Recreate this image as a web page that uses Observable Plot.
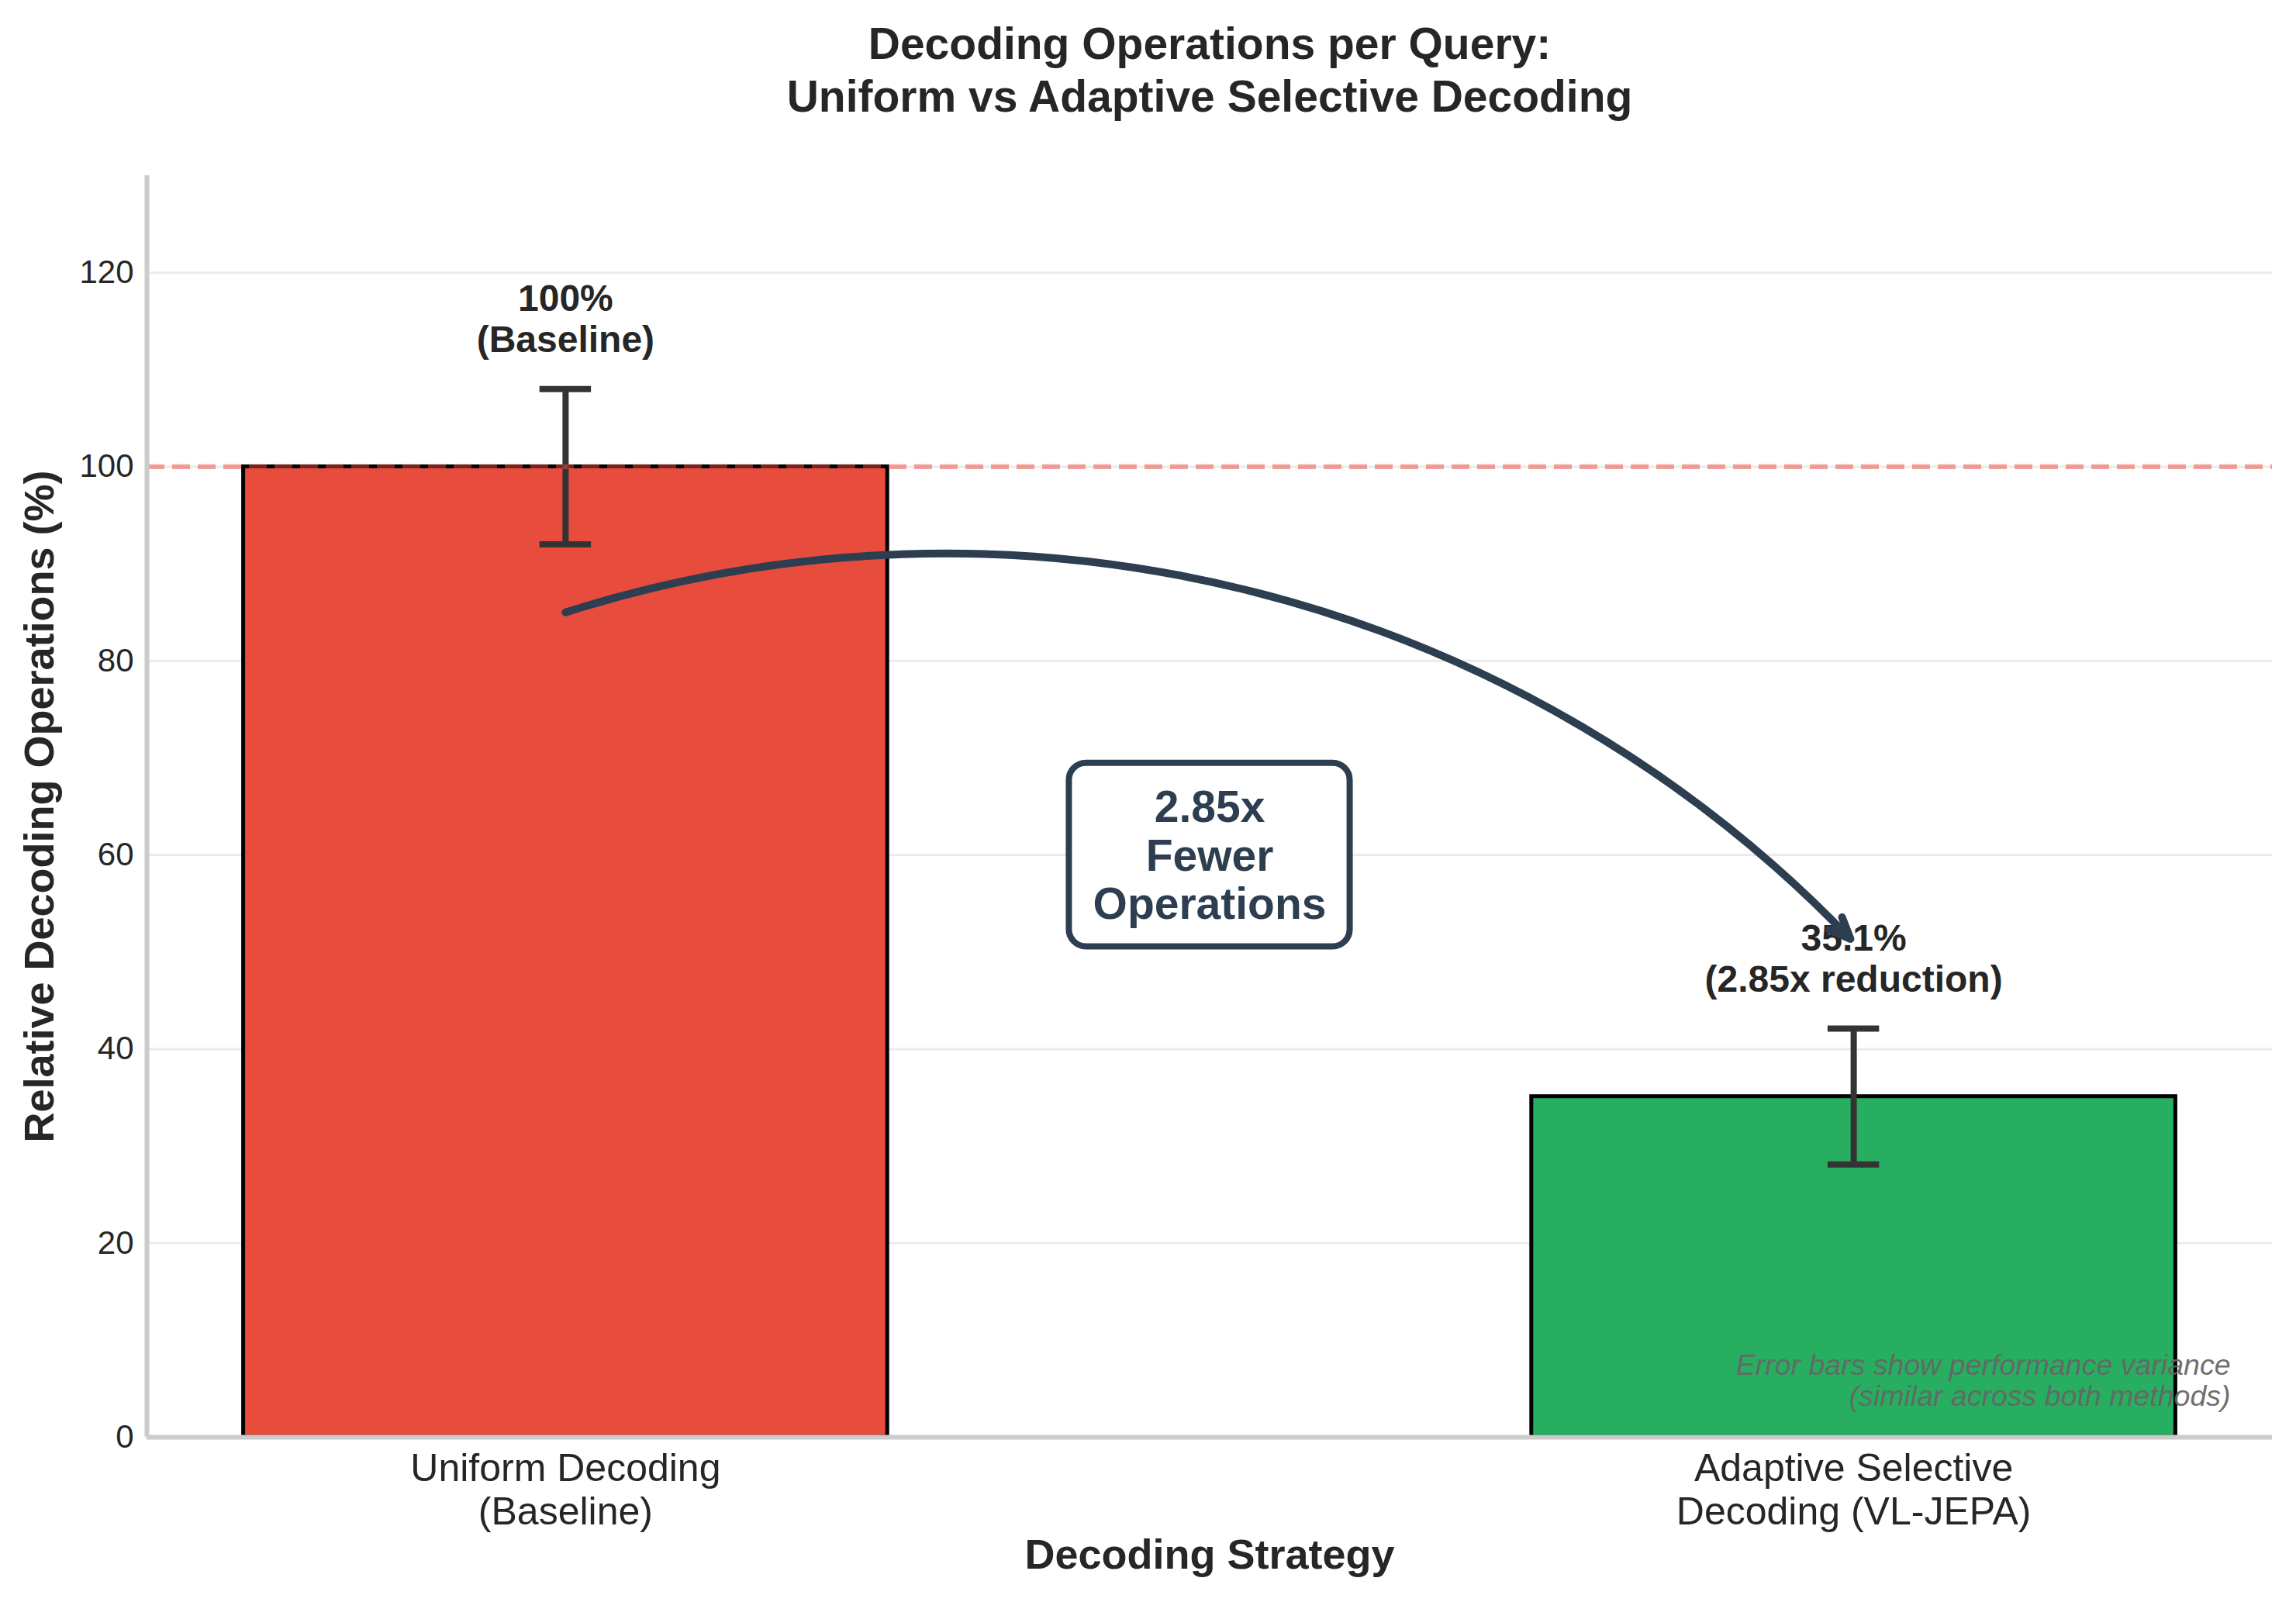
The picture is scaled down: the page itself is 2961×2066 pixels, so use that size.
<!DOCTYPE html>
<html>
<head>
<meta charset="utf-8">
<script src="https://cdn.jsdelivr.net/npm/d3@7"></script>
<script src="https://cdn.jsdelivr.net/npm/@observablehq/plot@0.6"></script>
<style>
  html, body { margin: 0; padding: 0; background: #ffffff; overflow: hidden; }
  #chart svg { display: block; }
</style>
</head>
<body>
<div id="chart"></div>
<script>
// ---- data ----
const strategies = ["Uniform Decoding\n(Baseline)", "Adaptive Selective\nDecoding (VL-JEPA)"];
const positions = [0, 1];
const values = [100, 35.1];
const errors = [8, 7];
const barLabels = ["100%\n(Baseline)", "35.1%\n(2.85x reduction)"];
const barColors = ["#e74c3c", "#27ae60"];
const yTicks = [0, 20, 40, 60, 80, 100, 120];
const baselineValue = 100;
const arrowFrom = [0, 85];
const arrowTo = [1, 51];
const calloutPos = [0.5, 60];
const calloutText = "2.85x\nFewer\nOperations";
const titleText = "Decoding Operations per Query:\nUniform vs Adaptive Selective Decoding";
const xLabel = "Decoding Strategy";
const yLabel = "Relative Decoding Operations (%)";
const noteText = "Error bars show performance variance\n(similar across both methods)";

// ---- options ----
const X_DOMAIN = [-0.325, 1.325];
const Y_DOMAIN = [0, 130];
const BAR_HALF = 0.25;
const CAP_HALF = 0.02;
const BOX_HALF_W = 0.109;
const BOX_HALF_H = 9.46;
const FONT = "'Liberation Sans', Arial, Helvetica, sans-serif";
const TEXT = "#262626";
const NAVY = "#2c3e50";

const rows = positions.map((p, i) => ({
  pos: p, value: values[i], err: errors[i], label: barLabels[i], color: barColors[i], name: strategies[i]
}));

const chart = Plot.plot({
  width: 2961,
  height: 2066,
  marginLeft: 189,
  marginRight: 31,
  marginTop: 226,
  marginBottom: 213,
  style: { fontFamily: FONT, background: "#ffffff" },
  x: { type: "linear", domain: X_DOMAIN },
  y: { type: "linear", domain: Y_DOMAIN },
  marks: [
    Plot.gridY(yTicks, { stroke: "#ebebeb", strokeOpacity: 1, strokeWidth: 3 }),
    Plot.rect(rows, {
      x1: d => d.pos - BAR_HALF, x2: d => d.pos + BAR_HALF,
      y1: 0, y2: "value",
      fill: d => d.color, stroke: "#000000", strokeWidth: 5
    }),
    // error bars
    Plot.ruleX(rows, { x: "pos", y1: d => d.value - d.err, y2: d => d.value + d.err, stroke: "#333333", strokeWidth: 8 }),
    Plot.ruleY(rows, { y: d => d.value + d.err, x1: d => d.pos - CAP_HALF, x2: d => d.pos + CAP_HALF, stroke: "#333333", strokeWidth: 8 }),
    Plot.ruleY(rows, { y: d => d.value - d.err, x1: d => d.pos - CAP_HALF, x2: d => d.pos + CAP_HALF, stroke: "#333333", strokeWidth: 8 }),
    // baseline reference
    Plot.ruleY([baselineValue], { stroke: "#e74c3c", strokeOpacity: 0.5, strokeWidth: 6.25, strokeDasharray: "23 10" }),
    // spines
    Plot.ruleX([X_DOMAIN[0]], { stroke: "#cccccc", strokeWidth: 6 }),
    Plot.ruleY([Y_DOMAIN[0]], { stroke: "#cccccc", strokeWidth: 6 }),
    // axes
    Plot.axisY(yTicks, { tickSize: 0, tickPadding: 17, fontSize: 42, color: TEXT, label: null }),
    Plot.axisX(positions, { tickSize: 0, tickPadding: 16, fontSize: 50, lineHeight: 1.13, color: TEXT, label: null,
      tickFormat: i => strategies[i] }),
    // bar value labels
    Plot.text(rows, {
      x: "pos", y: d => d.value + d.err + 3, text: "label",
      lineAnchor: "bottom", dy: -10, fontSize: 48, fontWeight: "bold", fill: TEXT, lineHeight: 1.11
    }),
    // curved arrow
    Plot.arrow([{ x1: arrowFrom[0], y1: arrowFrom[1], x2: arrowTo[0], y2: arrowTo[1] }], {
      x1: "x1", y1: "y1", x2: "x2", y2: "y2",
      bend: 32, stroke: NAVY, strokeWidth: 10, headLength: 4.5, headAngle: 45, insetEnd: 6
    }),
    // callout box
    Plot.rect([{ x: calloutPos[0], y: calloutPos[1] }], {
      x1: d => d.x - BOX_HALF_W, x2: d => d.x + BOX_HALF_W,
      y1: d => d.y - BOX_HALF_H, y2: d => d.y + BOX_HALF_H,
      fill: "#ffffff", stroke: NAVY, strokeWidth: 8, rx: 22
    }),
    Plot.text([{ x: calloutPos[0], y: calloutPos[1], t: calloutText }], {
      x: "x", y: "y", text: "t", lineAnchor: "middle", fontSize: 57, fontWeight: "bold", fill: NAVY, lineHeight: 1.1
    }),
    // footnote
    Plot.text([noteText], {
      frameAnchor: "bottom-right", textAnchor: "end", lineAnchor: "bottom",
      dx: -54, dy: -41, fontSize: 37.5, fontStyle: "italic", fill: "#666666", fillOpacity: 0.95, lineHeight: 1.05
    }),
    // axis titles
    Plot.text([yLabel], {
      frameAnchor: "left", textAnchor: "middle", rotate: -90, dx: -138, lineAnchor: "middle",
      fontSize: 54, fontWeight: "bold", fill: TEXT
    }),
    Plot.text([xLabel], {
      frameAnchor: "bottom", dy: 152, lineAnchor: "middle",
      fontSize: 54, fontWeight: "bold", fill: TEXT
    }),
    // title
    Plot.text([titleText], {
      frameAnchor: "top", dy: -138, lineAnchor: "middle",
      fontSize: 57, fontWeight: "bold", fill: TEXT, lineHeight: 1.19
    })
  ]
});

document.getElementById("chart").appendChild(chart);
</script>
</body>
</html>
